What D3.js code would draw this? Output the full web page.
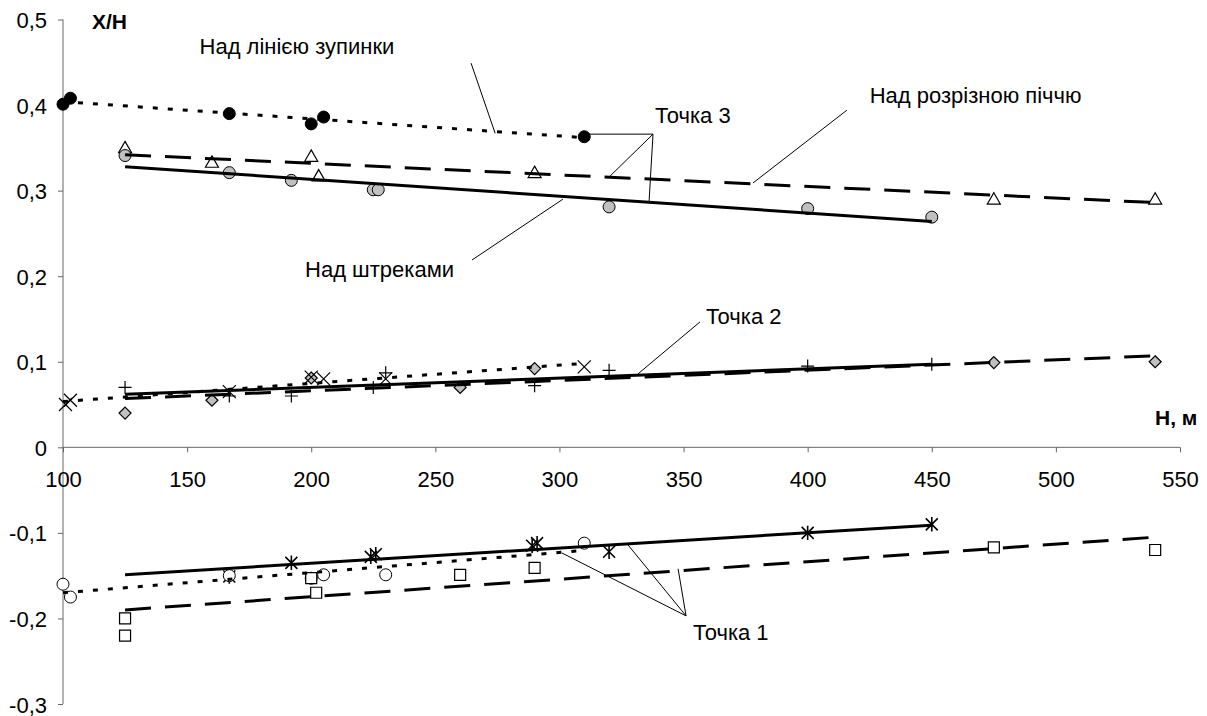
<!DOCTYPE html>
<html lang="uk">
<head>
<meta charset="UTF-8">
<title>X/H vs H</title>
<script src="https://d3js.org/d3.v7.min.js"></script>
<style>
    body { margin: 0; background: #fff; }
    text { font-family: "Liberation Sans", Arial, sans-serif; fill: #000; }
    .axis-title { font-weight: bold; }
</style>
</head>
<body>
<svg id="chart"></svg>
<script>
    // ---- data ----
    // Точка 3
    const stopH = [100, 103, 167, 200, 205, 310];
    const stopV = [0.401, 0.408, 0.390, 0.378, 0.386, 0.363];
    const stopTrendH = [100, 307];
    const stopTrendV = [0.404, 0.3625];

    const cutH = [125, 160, 200, 203, 290, 475, 540];
    const cutV = [0.350, 0.333, 0.340, 0.317, 0.321, 0.290, 0.290];
    const cutTrendH = [125, 540];
    const cutTrendV = [0.342, 0.286];

    const driftH = [125, 167, 192, 225, 227, 320, 400, 450];
    const driftV = [0.341, 0.321, 0.312, 0.301, 0.301, 0.281, 0.279, 0.269];
    const driftTrendH = [125, 450];
    const driftTrendV = [0.328, 0.264];

    // Точка 2
    const p2PlusH = [125, 167, 192, 225, 230, 290, 320, 400, 450];
    const p2PlusV = [0.070, 0.060, 0.060, 0.070, 0.087, 0.072, 0.090, 0.095, 0.097];
    const p2PlusTrendH = [125, 450];
    const p2PlusTrendV = [0.062, 0.097];

    const p2DiamH = [125, 160, 200, 260, 290, 475, 540];
    const p2DiamV = [0.040, 0.055, 0.081, 0.070, 0.092, 0.099, 0.100];
    const p2DiamTrendH = [125, 540];
    const p2DiamTrendV = [0.057, 0.107];

    const p2CrossH = [101, 103, 167, 200, 205, 230, 310];
    const p2CrossV = [0.050, 0.055, 0.065, 0.082, 0.080, 0.080, 0.094];
    const p2CrossTrendH = [100, 307];
    const p2CrossTrendV = [0.0535, 0.0975];

    // Точка 1
    const p1StarH = [167, 192, 224, 226, 289, 291, 320, 400, 450];
    const p1StarV = [-0.151, -0.135, -0.128, -0.125, -0.115, -0.112, -0.122, -0.100, -0.090];
    const p1StarTrendH = [125, 450];
    const p1StarTrendV = [-0.149, -0.091];

    const p1CircH = [100, 103, 167, 200, 205, 230, 310];
    const p1CircV = [-0.160, -0.175, -0.150, -0.153, -0.149, -0.149, -0.112];
    const p1CircTrendH = [100, 308];
    const p1CircTrendV = [-0.170, -0.121];

    const p1SqH = [125, 125, 200, 202, 260, 290, 475, 540];
    const p1SqV = [-0.200, -0.220, -0.153, -0.170, -0.149, -0.141, -0.117, -0.120];
    const p1SqTrendH = [125, 540];
    const p1SqTrendV = [-0.190, -0.105];

    const xTicks = [100, 150, 200, 250, 300, 350, 400, 450, 500, 550];
    const yTicks = [0.5, 0.4, 0.3, 0.2, 0.1, 0, -0.1, -0.2, -0.3];

    // callouts: text position and leader lines, in data units
    const labels = [
        { text: 'Над лінією зупинки', h: 155, v: 0.460, lines: [[[264.4, 0.449], [274.1, 0.367]]] },
        { text: 'Точка 3', h: 338.5, v: 0.379, lines: [[[337.7, 0.366], [311.1, 0.366]], [[337.7, 0.366], [320.4, 0.317]], [[337.7, 0.366], [336.1, 0.287]]] },
        { text: 'Над розрізною піччю', h: 425, v: 0.402, lines: [[[415.8, 0.394], [378, 0.309]]] },
        { text: 'Над штреками', h: 197.5, v: 0.199, lines: [[[264.8, 0.219], [301.4, 0.290]]] },
        { text: 'Точка 2', h: 359, v: 0.144, lines: [[[356.6, 0.1465], [331.6, 0.0857]]] },
        { text: 'Точка 1', h: 353.8, v: -0.225, lines: [[[351, -0.197], [301, -0.1235]], [[351, -0.197], [327.6, -0.114]], [[351, -0.197], [347.8, -0.142]]] }
    ];

    const series = [
        { h: stopH, v: stopV, tH: stopTrendH, tV: stopTrendV, marker: 'dotBlack', line: 'dotted' },
        { h: cutH, v: cutV, tH: cutTrendH, tV: cutTrendV, marker: 'triangle', line: 'dashed' },
        { h: driftH, v: driftV, tH: driftTrendH, tV: driftTrendV, marker: 'dotGray', line: 'solid' },
        { h: p2PlusH, v: p2PlusV, tH: p2PlusTrendH, tV: p2PlusTrendV, marker: 'plus', line: 'solid' },
        { h: p2DiamH, v: p2DiamV, tH: p2DiamTrendH, tV: p2DiamTrendV, marker: 'diamond', line: 'dashed' },
        { h: p2CrossH, v: p2CrossV, tH: p2CrossTrendH, tV: p2CrossTrendV, marker: 'cross', line: 'dotted' },
        { h: p1StarH, v: p1StarV, tH: p1StarTrendH, tV: p1StarTrendV, marker: 'star', line: 'solid' },
        { h: p1CircH, v: p1CircV, tH: p1CircTrendH, tV: p1CircTrendV, marker: 'circle', line: 'dotted' },
        { h: p1SqH, v: p1SqV, tH: p1SqTrendH, tV: p1SqTrendV, marker: 'square', line: 'dashed' }
    ];

    // ---- layout ----
    const width = 1207;
    const height = 716;

    const svg = d3.select('#chart')
        .attr('width', width)
        .attr('height', height);

    const x = d3.scaleLinear().domain([100, 550]).range([63, 1180]);
    const y = d3.scaleLinear().domain([-0.3, 0.5]).range([704, 19.5]);

    const fmt = d => d3.format('.1f')(d).replace('.', ',').replace('−', '-');

    // y axis
    const yAxis = svg.append('g')
        .attr('transform', `translate(${x(100)},0)`)
        .call(d3.axisLeft(y).tickValues(yTicks).tickSize(5).tickFormat(d => d === 0 ? '0' : fmt(d)));
    yAxis.selectAll('text')
        .attr('x', -16)
        .attr('y', 8)
        .attr('dy', null)
        .style('font-size', '22px')
        .style('font-family', '"Liberation Sans", Arial, sans-serif');

    // x axis at y = 0
    const xAxis = svg.append('g')
        .attr('transform', `translate(0,${y(0)})`)
        .call(d3.axisBottom(x).tickValues(xTicks).tickSize(5).tickFormat(d3.format('d')));
    xAxis.selectAll('text')
        .attr('y', 40)
        .attr('dy', null)
        .style('font-size', '22px')
        .style('font-family', '"Liberation Sans", Arial, sans-serif');

    svg.selectAll('.domain, .tick line').attr('stroke', '#666').attr('stroke-width', 1);
    // plain axis lines without end caps
    yAxis.select('.domain').attr('d', `M0,${y(0.5)}V${y(-0.3)}`);
    xAxis.select('.domain').attr('d', `M${x(100)},0H${x(550)}`);

    svg.append('text').attr('class', 'axis-title')
        .attr('x', 92).attr('y', 29)
        .style('font-size', '21px')
        .text('X/H');
    svg.append('text').attr('class', 'axis-title')
        .attr('x', 1155).attr('y', 425)
        .style('font-size', '21px')
        .text('H, м');

    // ---- markers ----
    const markerPaths = {
        plus: s => `M${-s},0H${s}M0,${-s}V${s}`,
        cross: s => `M${-s},${-s}L${s},${s}M${-s},${s}L${s},${-s}`,
        star: s => `M${-s},${-s}L${s},${s}M${-s},${s}L${s},${-s}M0,${-s * 1.2}V${s * 1.2}`,
        triangle: s => `M0,${-s}L${s},${s * 0.75}L${-s},${s * 0.75}Z`,
        diamond: s => `M0,${-s}L${s},0L0,${s}L${-s},0Z`,
        square: s => `M${-s},${-s}H${s}V${s}H${-s}Z`
    };

    const markersG = svg.append('g');
    series.forEach(sr => {
        const pts = sr.h.map((h, i) => ({ h, v: sr.v[i] }));
        const g = markersG.append('g');
        if (sr.marker === 'dotBlack' || sr.marker === 'dotGray' || sr.marker === 'circle') {
            g.selectAll('circle').data(pts).enter().append('circle')
                .attr('cx', d => x(d.h))
                .attr('cy', d => y(d.v))
                .attr('r', 6)
                .attr('fill', sr.marker === 'dotBlack' ? '#000' : sr.marker === 'dotGray' ? '#c0c0c0' : '#fff')
                .attr('stroke', '#000')
                .attr('stroke-width', 1);
        } else {
            const size = { plus: 6.5, cross: 6.5, star: 6, triangle: 6.5, diamond: 6, square: 5.5 }[sr.marker];
            const filled = sr.marker === 'diamond' ? '#c0c0c0' : (sr.marker === 'triangle' || sr.marker === 'square') ? '#fff' : 'none';
            g.selectAll('path').data(pts).enter().append('path')
                .attr('transform', d => `translate(${x(d.h)},${y(d.v)})`)
                .attr('d', markerPaths[sr.marker](size))
                .attr('fill', filled)
                .attr('stroke', '#000')
                .attr('stroke-width', sr.marker === 'star' ? 1.6 : 1.2);
        }
    });

    // ---- trend lines ----
    const dash = { solid: null, dashed: '26,14', dotted: '5,10' };
    const line = d3.line().x(d => x(d[0])).y(d => y(d[1]));
    series.forEach(sr => {
        svg.append('path')
            .attr('d', line(sr.tH.map((h, i) => [h, sr.tV[i]])))
            .attr('fill', 'none')
            .attr('stroke', '#000')
            .attr('stroke-width', 3)
            .attr('stroke-dasharray', dash[sr.line]);
    });

    // ---- callouts ----
    labels.forEach(lb => {
        lb.lines.forEach(seg => {
            svg.append('path')
                .attr('d', line(seg))
                .attr('fill', 'none')
                .attr('stroke', '#000')
                .attr('stroke-width', 1);
        });
        svg.append('text')
            .attr('x', x(lb.h))
            .attr('y', y(lb.v))
            .style('font-size', '22px')
            .text(lb.text);
    });
</script>
</body>
</html>
